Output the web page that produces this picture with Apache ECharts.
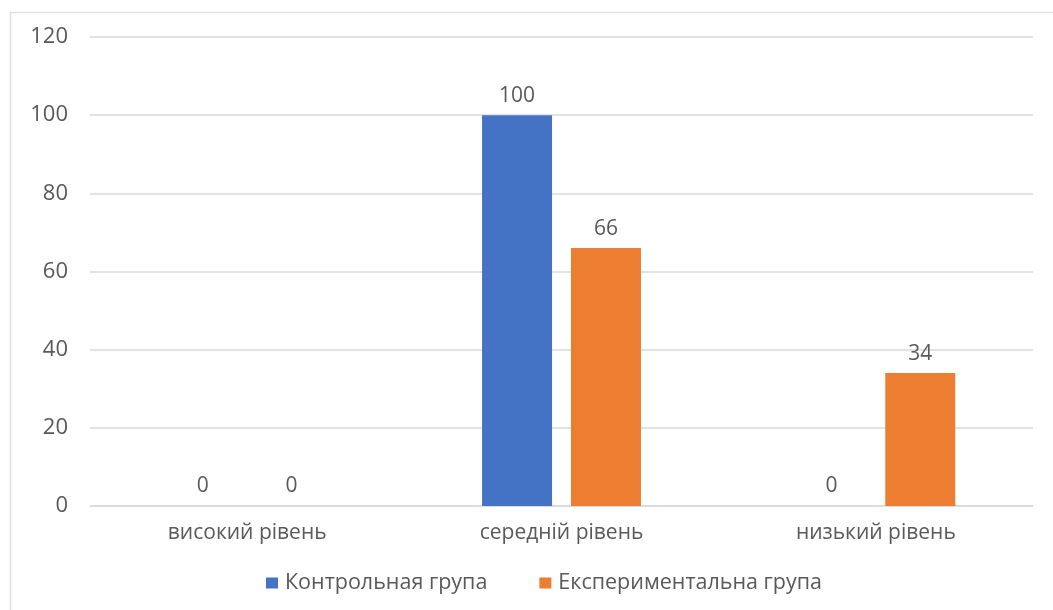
<!DOCTYPE html>
<html>
<head>
<meta charset="utf-8">
<style>
  html, body { margin: 0; padding: 0; background: #fff; }
  #chart { width: 1053px; height: 610px; }
</style>
<script src="https://cdn.jsdelivr.net/npm/echarts@6/dist/echarts.min.js"></script>
</head>
<body>
<div id="chart"></div>
<script>
  // Рівні сформованості
  const categories = ['високий рівень', 'середній рівень', 'низький рівень'];
  const controlGroup = [0, 100, 0];
  const experimentalGroup = [0, 66, 34];
  const seriesNames = ['Контрольная група', 'Експериментальна група'];

  const textColor = '#595959';
  const font = '"Open Sans", sans-serif';

  const chart = echarts.init(document.getElementById('chart'));
  chart.setOption({
    animation: false,
    backgroundColor: '#fff',
    graphic: [{
      type: 'rect',
      shape: { x: 10.5, y: 12.5, width: 1100, height: 700 },
      style: { fill: 'none', stroke: '#e0e0e0', lineWidth: 1.5 },
      silent: true
    }],
    grid: { left: 90, right: 20, top: 37, bottom: 104 },
    legend: {
      data: seriesNames,
      top: 567,
      left: 261,
      itemWidth: 12,
      itemHeight: 11,
      itemGap: 52,
      icon: 'rect',
      textStyle: { color: textColor, fontSize: 21.5, fontFamily: font, padding: [0, 0, 0, 2] }
    },
    xAxis: {
      type: 'category',
      data: categories,
      axisLine: { lineStyle: { color: '#d9d9d9', width: 1.5 } },
      axisTick: { show: false },
      axisLabel: { color: textColor, fontSize: 21, fontFamily: font, margin: 17 }
    },
    yAxis: {
      type: 'value',
      min: 0,
      max: 120,
      interval: 20,
      axisLine: { show: false },
      axisTick: { show: false },
      splitLine: { lineStyle: { color: '#d9d9d9', width: 1.5 } },
      axisLabel: { color: textColor, fontSize: 22, fontFamily: font, margin: 22 }
    },
    series: [
      {
        name: seriesNames[0],
        type: 'bar',
        data: controlGroup,
        barWidth: 70,
        barGap: '27%',
        itemStyle: { color: '#4472C4' },
        label: { show: true, position: 'top', distance: 9, color: textColor, fontSize: 21, fontFamily: font }
      },
      {
        name: seriesNames[1],
        type: 'bar',
        data: experimentalGroup,
        barWidth: 70,
        barGap: '27%',
        itemStyle: { color: '#ED7D31' },
        label: { show: true, position: 'top', distance: 9, color: textColor, fontSize: 21, fontFamily: font }
      }
    ]
  });
</script>
</body>
</html>
